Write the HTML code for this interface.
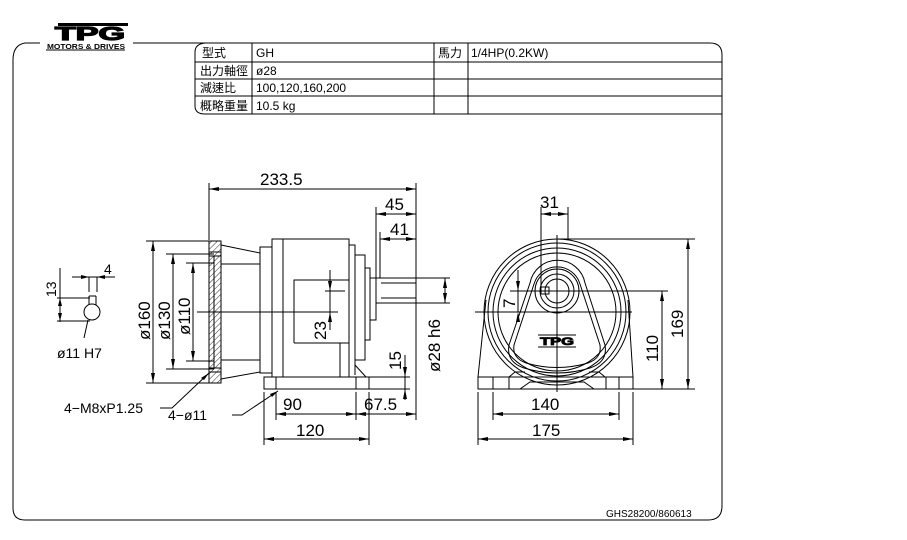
<!DOCTYPE html>
<html><head><meta charset="utf-8"><style>
html,body{margin:0;padding:0;background:#fff;}
svg{display:block;}
text{font-family:"Liberation Sans","Noto Sans CJK TC",sans-serif;fill:#000;}
</style></head><body>
<svg width="907" height="540" viewBox="0 0 907 540" xmlns="http://www.w3.org/2000/svg">
<defs>
<pattern id="h" width="4" height="4" patternUnits="userSpaceOnUse" patternTransform="rotate(45)"><line x1="0" y1="0" x2="0" y2="4" stroke="#000" stroke-width="0.8"/></pattern>
</defs>
<g fill="none" stroke="#000" stroke-width="1">
<!-- frame -->
<path d="M40 43 H25 Q13 45 13 60 V508 Q13 520 25 520 H708 Q722 520 722 506 V55 Q722 43 710 43 H133"/>
<!-- table -->
<path d="M205 43 Q195 44 195 52 V106 Q195 114 205 114 H722"/>
<line x1="195" y1="62" x2="722" y2="62"/><line x1="195" y1="79" x2="722" y2="79"/><line x1="195" y1="96" x2="722" y2="96"/>
<line x1="252" y1="43" x2="252" y2="114"/><line x1="434" y1="43" x2="434" y2="114"/><line x1="468" y1="43" x2="468" y2="114"/>
</g>
<!-- logo -->
<g>
<rect x="58" y="23" width="70" height="3" fill="#000"/>
<text x="55" y="40" font-size="18" font-weight="bold" textLength="70" lengthAdjust="spacingAndGlyphs" fill="none" stroke="#000" stroke-width="1.2">TPG</text>
<text x="47" y="49" font-size="7" font-weight="bold" textLength="78" lengthAdjust="spacingAndGlyphs">MOTORS &amp; DRIVES</text>
<line x1="46" y1="50" x2="125" y2="50" stroke="#000"/>
</g>
<g font-size="12">
<text x="202" y="57">型式</text><text x="256" y="57">GH</text><text x="438" y="57">馬力</text><text x="471" y="57">1/4HP(0.2KW)</text>
<text x="200" y="75">出力軸徑</text><text x="256" y="75">ø28</text>
<text x="200" y="92">減速比</text><text x="256" y="92">100,120,160,200</text>
<text x="200" y="110">概略重量</text><text x="256" y="110">10.5 kg</text>
</g>
<g fill="none" stroke="#000" stroke-width="1">
<!-- side view -->
<rect x="209" y="241" width="12" height="142" fill="url(#h)"/>
<line x1="209" y1="252" x2="221" y2="252"/><line x1="209" y1="256" x2="221" y2="256"/>
<line x1="209" y1="368" x2="221" y2="368"/><line x1="209" y1="372" x2="221" y2="372"/>
<line x1="214" y1="256" x2="214" y2="368"/>
<line x1="221" y1="245" x2="260" y2="253"/><line x1="221" y1="379" x2="260" y2="372"/>
<line x1="221" y1="264" x2="260" y2="264"/><line x1="221" y1="360" x2="260" y2="360"/>
<rect x="260" y="247" width="12" height="126"/>
<rect x="272" y="239" width="77" height="138"/>
<line x1="283" y1="239" x2="283" y2="377"/>
<path d="M294 343 V280 H349"/><path d="M294 343 H349"/>
<path d="M349 245 H355 V375"/><path d="M355 255 H365 V360 H355"/><path d="M365 268 H370 V340 H365"/><path d="M370 278 H376 V320 H370"/>
<rect x="376" y="278" width="40" height="25"/>
<line x1="381" y1="283" x2="416" y2="283"/><line x1="381" y1="298" x2="416" y2="298"/>
<rect x="264" y="377" width="105" height="12"/>
<line x1="276" y1="377" x2="276" y2="389"/><line x1="356" y1="377" x2="356" y2="389"/>
<line x1="340" y1="343" x2="340" y2="377"/><line x1="349" y1="343" x2="349" y2="377"/>
<line x1="355" y1="365" x2="366" y2="377"/>
<line x1="197" y1="312" x2="338" y2="312"/>
<line x1="325" y1="291" x2="345" y2="291"/>
<!-- dims side -->
<line x1="209" y1="183" x2="209" y2="240"/><line x1="416" y1="183" x2="416" y2="278"/>
<line x1="209" y1="189" x2="416" y2="189"/>
<line x1="376" y1="207" x2="376" y2="278"/><line x1="380" y1="232" x2="380" y2="278"/>
<line x1="376" y1="214" x2="416" y2="214"/><line x1="380" y1="239" x2="416" y2="239"/>
<line x1="416" y1="303" x2="416" y2="420"/>
<line x1="416" y1="278" x2="450" y2="278"/><line x1="416" y1="303" x2="450" y2="303"/>
<line x1="445" y1="278" x2="445" y2="303"/>
<line x1="330" y1="270" x2="330" y2="330"/>
<line x1="369" y1="377" x2="410" y2="377"/><line x1="369" y1="389" x2="410" y2="389"/>
<line x1="405" y1="355" x2="405" y2="400"/>
<line x1="264" y1="392" x2="264" y2="445"/><line x1="369" y1="392" x2="369" y2="445"/>
<line x1="276" y1="392" x2="276" y2="420"/><line x1="356" y1="392" x2="356" y2="420"/>
<line x1="276" y1="414" x2="416" y2="414"/><line x1="264" y1="439" x2="369" y2="439"/>
<line x1="146" y1="241" x2="209" y2="241"/><line x1="146" y1="383" x2="209" y2="383"/>
<line x1="166" y1="254" x2="214" y2="254"/><line x1="166" y1="369" x2="214" y2="369"/>
<line x1="186" y1="263" x2="214" y2="263"/><line x1="186" y1="361" x2="214" y2="361"/>
<line x1="153" y1="241" x2="153" y2="383"/><line x1="173" y1="254" x2="173" y2="369"/><line x1="193" y1="263" x2="193" y2="361"/>
<path d="M160 408 H172 L209 373"/><path d="M232 415 H242 L278 391"/>
<!-- detail left -->
<circle cx="92" cy="312" r="8"/>
<path d="M89 305 V296 M96 305 V296 M89 296 H96"/>
<line x1="60" y1="268" x2="60" y2="322"/><line x1="57" y1="298" x2="90" y2="298"/><line x1="57" y1="321" x2="90" y2="321"/>
<line x1="89" y1="277" x2="89" y2="292"/><line x1="97" y1="277" x2="97" y2="292"/><line x1="72" y1="277" x2="115" y2="277"/>
<line x1="60" y1="298" x2="60" y2="321"/>
<path d="M84 338 L88 320"/>
<!-- front view -->
<circle cx="557" cy="312" r="73"/><circle cx="557" cy="312" r="69"/><circle cx="557" cy="312" r="64"/><circle cx="557" cy="312" r="59"/>
<circle cx="557" cy="291" r="12"/><circle cx="557" cy="291" r="17"/><circle cx="557" cy="291" r="22"/>
<path d="M530 283 A28 28 0 0 1 585 283 L605 345 Q608 362 590 368 Q557 378 524 368 Q506 362 509 345 Z"/>
<path d="M534 284 A24 24 0 0 1 580 284 L600 345 Q602 358 588 363 Q557 372 526 363 Q512 358 514 345 Z"/>
<rect x="541" y="287" width="8" height="7"/>
<path d="M486 300 L478 377 M628 300 L633 377"/>
<rect x="478" y="377" width="155" height="12"/>
<line x1="493" y1="377" x2="493" y2="389"/><line x1="509" y1="377" x2="509" y2="389"/><line x1="606" y1="377" x2="606" y2="389"/><line x1="619" y1="377" x2="619" y2="389"/>
<path d="M509 377 L515 372 H525 M605 377 L599 372 H589 M520 389 L530 382 H584 L594 389"/>
<line x1="557" y1="235" x2="557" y2="392"/>
<line x1="475" y1="312" x2="632" y2="312"/>
<line x1="510" y1="291" x2="668" y2="291"/>
<line x1="541" y1="207" x2="541" y2="290"/><line x1="568" y1="207" x2="568" y2="240"/>
<line x1="541" y1="214" x2="568" y2="214"/>
<line x1="557" y1="239" x2="695" y2="239"/><line x1="633" y1="389" x2="695" y2="389"/>
<line x1="688" y1="239" x2="688" y2="389"/><line x1="662" y1="291" x2="662" y2="389"/>
<line x1="478" y1="392" x2="478" y2="445"/><line x1="633" y1="392" x2="633" y2="445"/>
<line x1="493" y1="392" x2="493" y2="420"/><line x1="619" y1="392" x2="619" y2="420"/>
<line x1="493" y1="414" x2="619" y2="414"/><line x1="478" y1="439" x2="633" y2="439"/>
<line x1="518" y1="270" x2="518" y2="312"/>
</g>
<!-- arrowheads -->
<g fill="#000">
<path d="M209 189 l10 -2 v4z M416 189 l-10 -2 v4z M376 214 l10 -2 v4z M416 214 l-10 -2 v4z M380 239 l10 -2 v4z M416 239 l-10 -2 v4z"/>
<path d="M276 414 l10 -2 v4z M356 414 l-10 -2 v4z M356 414 l10 -2 v4z M416 414 l-10 -2 v4z M264 439 l10 -2 v4z M369 439 l-10 -2 v4z"/>
<path d="M445 278 l-2 10 h4z M445 303 l-2 -10 h4z M330 291 l-2 -10 h4z M330 312 l-2 10 h4z M405 377 l-2 -10 h4z M405 389 l-2 10 h4z"/>
<path d="M153 241 l-2 10 h4z M153 383 l-2 -10 h4z M173 254 l-2 10 h4z M173 369 l-2 -10 h4z M193 263 l-2 10 h4z M193 361 l-2 -10 h4z"/>
<path d="M541 214 l10 -2 v4z M568 214 l-10 -2 v4z M688 239 l-2 10 h4z M688 389 l-2 -10 h4z M662 291 l-2 10 h4z M662 389 l-2 -10 h4z"/>
<path d="M493 414 l10 -2 v4z M619 414 l-10 -2 v4z M478 439 l10 -2 v4z M633 439 l-10 -2 v4z M518 291 l-2 -10 h4z M518 312 l-2 10 h4z"/>
<path d="M89 277 l-8 -2 v4z M97 277 l8 -2 v4z M60 298 l-2 8 h4z M60 321 l-2 -8 h4z M209 373 l-8 5 l3 2z M278 391 l-8 3 l2 3z"/>
</g>
<g font-size="17">
<text x="260" y="185">233.5</text>
<text x="385" y="210">45</text><text x="390" y="235">41</text>
<text x="283" y="410">90</text><text x="364" y="410">67.5</text>
<text x="296" y="436">120</text>
<text x="540" y="208">31</text>
<text x="531" y="410">140</text><text x="532" y="436">175</text>
<text transform="translate(326 340) rotate(-90)">23</text>
<text transform="translate(440 372) rotate(-90)">ø28 h6</text>
<text transform="translate(401 370) rotate(-90)">15</text>
<text transform="translate(150 340) rotate(-90)">ø160</text>
<text transform="translate(170 340) rotate(-90)">ø130</text>
<text transform="translate(190 335) rotate(-90)">ø110</text>
<text transform="translate(683 338) rotate(-90)">169</text>
<text transform="translate(658 362) rotate(-90)">110</text>
<text transform="translate(515 308) rotate(-90)">7</text>
<text transform="translate(56 297) rotate(-90)" font-size="14">13</text>
</g>
<g font-size="14">
<text x="104" y="274">4</text>
<text x="57" y="358">ø11  H7</text>
<text x="64" y="413">4−M8xP1.25</text>
<text x="168" y="420">4−ø11</text>
</g>
<text x="540" y="345" font-size="11" font-weight="bold" textLength="34" lengthAdjust="spacingAndGlyphs" fill="none" stroke="#000" stroke-width="0.8">TPG</text>
<line x1="538" y1="335" x2="576" y2="335" stroke="#000"/><line x1="538" y1="347" x2="576" y2="347" stroke="#000"/>
<text x="606" y="517" font-size="10">GHS28200/860613</text>
</svg>
</body></html>
